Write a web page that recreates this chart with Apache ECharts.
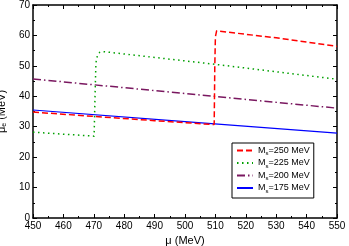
<!DOCTYPE html>
<html><head><meta charset="utf-8">
<script src="https://cdn.jsdelivr.net/npm/echarts@6/dist/echarts.min.js"></script>
<style>html,body{margin:0;padding:0;background:#fff}#c{width:349px;height:246px}</style>
</head><body><div id="c"></div>
<script>
var xTicks = [450, 460, 470, 480, 490, 500, 510, 520, 530, 540, 550];
var yTicks = [0, 10, 20, 30, 40, 50, 60, 70];
var seriesNames = ['250', '225', '200', '175'];

var mu250 = [450, 470, 490, 509.6, 509.8, 510.0, 510.4, 511.0, 530, 550];
var val250 = [34.8, 33.4, 32.0, 30.7, 50.0, 59.5, 61.5, 62.0, 59.2, 56.4];
var mu225 = [450, 470.1, 470.4, 470.7, 471.2, 472.0, 473.0, 510, 550];
var val225 = [28.2, 26.9, 40.0, 51.0, 53.5, 54.5, 54.7, 50.5, 45.6];
var mu200 = [450, 500, 550];
var val200 = [45.7, 40.9, 36.1];
var mu175 = [450, 500, 550];
var val175 = [35.5, 31.7, 27.9];

function pairs(xs, ys){ return xs.map(function(x,i){ return [x, ys[i]]; }); }

var chart = echarts.init(document.getElementById('c'), null, {renderer:'canvas'});
var font = 'Liberation Sans, Arial, sans-serif';
function legendName(n){ return '{a|M}{s|s}{a|=' + n + ' MeV}'; }

var axCommon = {
  axisLine:{show:true, onZero:false, lineStyle:{color:'#000', width:1.5}},
  axisTick:{show:true, inside:true, length:4, lineStyle:{color:'#000', width:1}},
  minorTick:{show:true, splitNumber:2, length:2, lineStyle:{color:'#000', width:1}},
  splitLine:{show:false}
};

chart.setOption({
  animation:false,
  backgroundColor:'#fff',
  grid:{left:33, right:12, top:5, bottom:28, containLabel:false, outerBoundsMode:'none'},
  legend:{
    orient:'vertical', left:232, top:143, width:78,
    padding:[3,4,4,4], itemGap:2, itemWidth:16, itemHeight:10,
    borderColor:'#000', borderWidth:1, backgroundColor:'#fff',
    itemStyle:{opacity:0, borderWidth:0, color:'rgba(0,0,0,0)'},
    textStyle:{fontFamily:font, fontSize:9, color:'#000',
      rich:{a:{fontFamily:font, fontSize:9, color:'#000'}, s:{fontFamily:font, fontSize:6, color:'#000', padding:[6,0,0,0]}}},
    formatter:function(n){ return legendName(n); },
    data: seriesNames
  },
  xAxis:[
    Object.assign({type:'value', min:450, max:550, interval:10, position:'bottom',
      name:'\u03bc (MeV)', nameLocation:'middle', nameGap:16,
      nameTextStyle:{fontFamily:font, fontSize:11, color:'#000'},
      axisLabel:{fontFamily:font, fontSize:10, color:'#000', margin:3,
        formatter:function(v){ return xTicks.indexOf(v) >= 0 ? String(v) : ''; }}}, axCommon),
    Object.assign({type:'value', min:450, max:550, interval:10, position:'top',
      axisLabel:{show:false}}, axCommon)
  ],
  yAxis:[
    Object.assign({type:'value', min:0, max:70, interval:10, position:'left',
      name:'{a|\u03bc}{s|e}{a| (MeV)}', nameLocation:'middle', nameGap:19, nameRotate:90,
      nameTextStyle:{fontFamily:font, fontSize:11, color:'#000',
        rich:{a:{fontFamily:font, fontSize:11, color:'#000'}, s:{fontFamily:font, fontSize:7, color:'#000', padding:[6,0,0,0]}}},
      axisLabel:{fontFamily:font, fontSize:10, color:'#000', margin:3,
        formatter:function(v){ return yTicks.indexOf(v) >= 0 ? String(v) : ''; }}}, axCommon),
    Object.assign({type:'value', min:0, max:70, interval:10, position:'right',
      axisLabel:{show:false}}, axCommon)
  ],
  series:[
    {name:'250', type:'line', symbol:'none', data:pairs(mu250, val250), smooth:false,
      lineStyle:{color:'#ff0000', width:1.5, type:[6,3]}, itemStyle:{color:'#ff0000'}, z:4},
    {name:'225', type:'line', symbol:'none', data:pairs(mu225, val225),
      lineStyle:{color:'#00a000', width:1.5, type:[1.5,3.5]}, itemStyle:{color:'#00a000'}, z:3},
    {name:'200', type:'line', symbol:'none', data:pairs(mu200, val200),
      lineStyle:{color:'#7a1860', width:1.5, type:[8,3,1.5,3]}, itemStyle:{color:'#7a1860'}, z:2},
    {name:'175', type:'line', symbol:'none', data:pairs(mu175, val175),
      lineStyle:{color:'#0000ff', width:1.2, type:'solid'}, itemStyle:{color:'#0000ff'}, z:1}
  ]
});
</script></body></html>
